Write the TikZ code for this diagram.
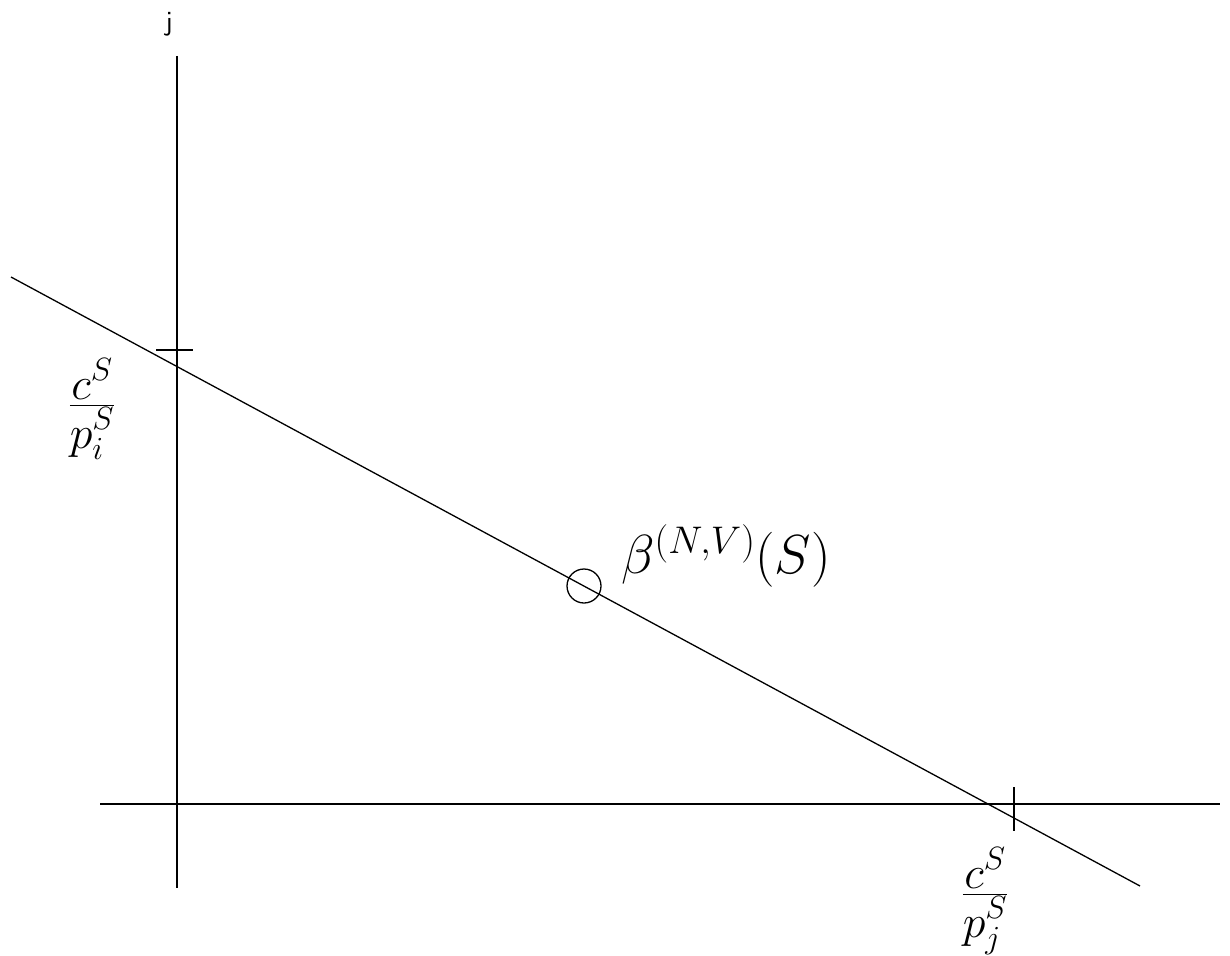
\RequirePackage{fix-cm}
\documentclass[tikz,border=0pt]{standalone}
\usepackage{amsmath}
\begin{document}
\begin{tikzpicture}[x=1pt,y=-1pt,
  ax/.style={line width=1.4pt},
  lab/.style={inner sep=0pt}]
\useasboundingbox (0,0) rectangle (1230,955);
% axes
\coordinate (vtop) at (177,56);
\coordinate (vbot) at (177,888);
\coordinate (hl) at (100,804);
\coordinate (hr) at (1220,804);
\draw[ax] (vtop) -- (vbot);
\draw[ax] (hl) -- (hr);
% budget line
\coordinate (la) at (11,277);
\coordinate (lb) at (1140,886);
\draw[line width=1.3pt] (la) -- (lb);
% ticks
\coordinate (t1a) at (156,350);
\coordinate (t1b) at (193,350);
\draw[ax] (t1a) -- (t1b);
\coordinate (t2a) at (1014,787);
\coordinate (t2b) at (1014,831);
\draw[ax] (t2a) -- (t2b);
% point
\node[circle,draw,line width=1.3pt,minimum size=34pt,inner sep=0pt] (pt) at (584,586) {};
% labels
\node[lab] (jl) at (169,24) {\fontsize{28}{32}\selectfont\sffamily j};
\node[lab] (ci) at (92,409) {\fontsize{46}{54}\selectfont$\frac{\displaystyle c^S}{\displaystyle p_i^S}$};
\node[lab] (cj) at (985,901) {\fontsize{46}{54}\selectfont$\frac{\displaystyle c^S}{\displaystyle p_j^S}$};
\node[lab] (beta) at (726,556) {\fontsize{55}{64}\selectfont$\beta^{(N,V)}(S)$};
\end{tikzpicture}
\end{document}
